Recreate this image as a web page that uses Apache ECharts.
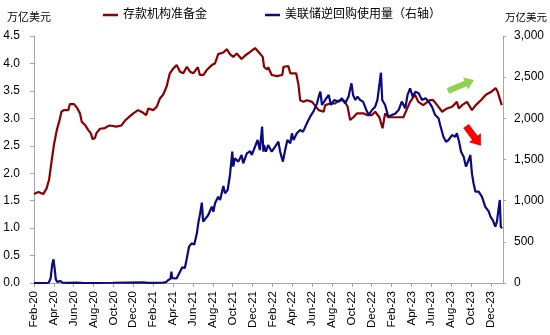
<!DOCTYPE html>
<html>
<head>
<meta charset="utf-8">
<script src="https://cdn.jsdelivr.net/npm/echarts@6/dist/echarts.min.js"></script>
<style>
  html, body { margin: 0; padding: 0; background: #fff; }
  #chart { width: 550px; height: 335px; }
</style>
</head>
<body>
<div id="chart"></div>
<script>
// Reserve balances of depository institutions, trillion USD (left axis)
const reserves = [
  ['2020-02-01',1.62],['2020-02-14',1.66],['2020-02-28',1.62],['2020-03-09',1.72],['2020-03-17',1.88],
  ['2020-03-24',2.18],['2020-04-01',2.51],['2020-04-10',2.79],['2020-04-17',2.94],['2020-04-24',3.12],
  ['2020-05-01',3.15],['2020-05-15',3.15],['2020-05-20',3.26],['2020-06-02',3.26],['2020-06-12',3.18],
  ['2020-06-20',3.09],['2020-06-25',2.94],['2020-07-05',2.88],['2020-07-15',2.79],['2020-07-23',2.73],
  ['2020-07-29',2.62],['2020-08-05',2.64],['2020-08-10',2.73],['2020-08-21',2.81],['2020-09-05',2.82],
  ['2020-09-12',2.85],['2020-09-20',2.87],['2020-09-25',2.84],['2020-10-10',2.85],['2020-10-26',2.87],
  ['2020-11-06',2.96],['2020-11-21',3.04],['2020-12-01',3.09],['2020-12-16',3.15],['2021-01-01',3.10],
  ['2021-01-10',3.06],['2021-01-17',3.18],['2021-02-01',3.15],['2021-02-11',3.21],['2021-02-20',3.36],
  ['2021-03-01',3.43],['2021-03-12',3.58],['2021-03-22',3.82],['2021-04-02',3.91],['2021-04-12',3.97],
  ['2021-04-22',3.85],['2021-05-02',3.82],['2021-05-13',3.94],['2021-05-23',3.85],['2021-06-02',3.82],
  ['2021-06-16',3.93],['2021-06-22',3.79],['2021-07-03',3.79],['2021-07-13',3.88],['2021-07-29',3.97],
  ['2021-08-08',4.00],['2021-08-18',4.17],['2021-09-03',4.20],['2021-09-13',4.26],['2021-09-23',4.17],
  ['2021-10-03',4.12],['2021-10-14',4.18],['2021-10-29',4.08],['2021-11-08',4.14],['2021-11-24',4.21],
  ['2021-12-09',4.28],['2021-12-24',4.18],['2022-01-02',4.12],['2022-01-06',3.94],['2022-01-15',3.89],
  ['2022-01-19',3.93],['2022-01-30',3.79],['2022-02-14',3.77],['2022-03-01',3.79],['2022-03-05',3.94],
  ['2022-03-20',3.95],['2022-03-26',3.82],['2022-04-13',3.82],['2022-04-20',3.61],['2022-04-25',3.33],
  ['2022-05-05',3.30],['2022-05-16',3.33],['2022-06-01',3.30],['2022-06-07',3.33],['2022-06-21',3.15],
  ['2022-07-06',3.12],['2022-07-11',3.24],['2022-07-27',3.27],['2022-08-11',3.27],['2022-08-21',3.32],
  ['2022-09-06',3.33],['2022-09-18',3.22],['2022-09-26',2.97],['2022-10-06',3.02],['2022-10-17',3.09],
  ['2022-11-07',3.09],['2022-11-17',3.06],['2022-12-02',3.06],['2022-12-12',3.12],['2022-12-25',3.02],
  ['2023-01-04',2.82],['2023-01-12',3.09],['2023-01-22',3.02],['2023-03-07',3.02],['2023-03-28',3.30],
  ['2023-04-12',3.43],['2023-04-22',3.30],['2023-05-07',3.24],['2023-05-28',3.33],['2023-06-07',3.33],
  ['2023-06-19',3.24],['2023-07-04',3.12],['2023-07-19',3.18],['2023-08-04',3.21],['2023-08-19',3.30],
  ['2023-08-25',3.18],['2023-09-04',3.24],['2023-09-19',3.30],['2023-10-04',3.15],['2023-10-16',3.24],
  ['2023-11-01',3.33],['2023-11-16',3.43],['2023-12-04',3.49],['2023-12-16',3.55],['2023-12-22',3.49],
  ['2024-01-04',3.24]
];

// Fed overnight reverse repo usage, billion USD (right axis)
const reverseRepo = [
  ['2020-02-01',0],['2020-03-01',0],['2020-03-16',3],['2020-03-22',60],['2020-03-27',230],
  ['2020-03-31',288],['2020-04-03',190],['2020-04-07',40],['2020-04-12',12],['2020-04-20',25],
  ['2020-04-27',5],['2020-05-15',2],['2020-06-10',4],['2020-07-01',0],['2020-09-30',3],
  ['2020-12-31',8],['2021-01-15',1],['2021-03-01',5],['2021-03-10',10],['2021-03-17',36],
  ['2021-03-24',50],['2021-03-27',137],['2021-03-29',60],['2021-04-01',36],['2021-04-12',57],
  ['2021-04-22',137],['2021-04-29',190],['2021-05-07',182],['2021-05-12',279],['2021-05-20',441],
  ['2021-05-28',482],['2021-06-05',466],['2021-06-13',603],['2021-06-18',745],['2021-06-23',846],
  ['2021-06-28',976],['2021-07-02',745],['2021-07-08',765],['2021-07-18',826],['2021-07-29',927],
  ['2021-08-03',866],['2021-08-08',968],['2021-08-18',1048],['2021-08-24',1008],['2021-09-03',1178],
  ['2021-09-08',1089],['2021-09-16',1130],['2021-09-23',1312],['2021-09-30',1595],['2021-10-03',1413],
  ['2021-10-08',1514],['2021-10-19',1474],['2021-10-29',1555],['2021-11-03',1453],['2021-11-14',1575],
  ['2021-11-24',1600],['2021-11-29',1555],['2021-12-09',1656],['2021-12-17',1737],['2021-12-24',1615],
  ['2021-12-31',1899],['2022-01-04',1595],['2022-01-06',1676],['2022-01-12',1595],['2022-01-19',1676],
  ['2022-01-30',1595],['2022-02-09',1656],['2022-02-18',1716],['2022-02-23',1595],['2022-03-03',1474],
  ['2022-03-10',1615],['2022-03-17',1737],['2022-03-26',1696],['2022-03-31',1818],['2022-04-05',1737],
  ['2022-04-15',1818],['2022-04-25',1858],['2022-05-04',1838],['2022-05-11',1899],['2022-05-18',1959],
  ['2022-05-26',2020],['2022-06-05',2081],['2022-06-16',2182],['2022-06-21',2263],['2022-06-26',2324],
  ['2022-07-01',2162],['2022-07-11',2223],['2022-07-22',2284],['2022-07-29',2162],['2022-08-08',2223],
  ['2022-08-22',2203],['2022-09-01',2243],['2022-09-11',2182],['2022-09-21',2263],['2022-09-30',2425],
  ['2022-10-05',2284],['2022-10-12',2223],['2022-10-19',2263],['2022-10-27',2223],['2022-11-05',2203],
  ['2022-11-15',2101],['2022-11-22',2040],['2022-12-02',2101],['2022-12-12',2142],['2022-12-19',2223],
  ['2022-12-30',2554],['2023-01-03',2223],['2023-01-12',2162],['2023-01-22',2020],['2023-02-02',2040],
  ['2023-02-12',2060],['2023-02-21',2101],['2023-03-02',2203],['2023-03-13',2121],['2023-03-20',2284],
  ['2023-03-28',2365],['2023-04-05',2263],['2023-04-13',2324],['2023-04-23',2304],['2023-05-03',2223],
  ['2023-05-14',2243],['2023-05-24',2203],['2023-06-03',2142],['2023-06-13',2040],['2023-06-23',2000],
  ['2023-06-28',1919],['2023-07-08',1777],['2023-07-16',1716],['2023-07-24',1737],['2023-08-04',1797],
  ['2023-08-14',1777],['2023-08-19',1818],['2023-08-26',1716],['2023-09-01',1595],['2023-09-09',1534],
  ['2023-09-16',1413],['2023-09-24',1494],['2023-09-29',1555],['2023-10-04',1332],['2023-10-09',1211],
  ['2023-10-15',1109],['2023-10-25',1109],['2023-11-04',1048],['2023-11-14',927],['2023-11-25',866],
  ['2023-11-30',805],['2023-12-07',765],['2023-12-15',684],['2023-12-20',745],['2023-12-29',1008],
  ['2024-01-01',684],['2024-01-05',664]
];

const seriesNames = ['存款机构准备金', '美联储逆回购使用量（右轴）'];
const unitLabel = '万亿美元';
const monthNames = ['Jan','Feb','Mar','Apr','May','Jun','Jul','Aug','Sep','Oct','Nov','Dec'];
const axisEnd = '2024-01-08';

// Trend arrows (left-axis units): from, to
const upArrow = [['2023-07-22', 3.50], ['2023-10-10', 3.70]];
const downArrow = [['2023-09-16', 2.86], ['2023-11-01', 2.50]];

// Month offset from Feb 2020, fractional within the month
function monthIndex(s) {
  const [y, m, d] = s.split('-').map(Number);
  const days = new Date(y, m, 0).getDate();
  return (y - 2020) * 12 + (m - 2) + (d - 1) / days;
}
function monthLabel(v) {
  if (Math.abs(v - Math.round(v)) > 1e-6) return '';
  const k = Math.round(v) + 1;
  const yy = String(20 + Math.floor(k / 12)).padStart(2, '0');
  return monthNames[k % 12] + '-' + yy;
}

const FONT = 'Liberation Sans, Arial, Noto Sans CJK SC, sans-serif';
const AXIS_GREY = '#a6a6a6';
const RED = '#8b0000';
const NAVY = '#0a0a85';

const chart = echarts.init(document.getElementById('chart'), null, { renderer: 'canvas' });

const legendBase = {
  top: 9, padding: 0, icon: 'rect', itemWidth: 15, itemHeight: 2.5, selectedMode: false,
  textStyle: { fontSize: 12, color: '#000', fontFamily: FONT }
};

chart.setOption({
  animation: false,
  backgroundColor: '#fff',
  textStyle: { fontFamily: FONT },
  grid: { left: 34, right: 47, top: 36, bottom: 52, containLabel: false },
  legend: [
    Object.assign({}, legendBase, { data: [seriesNames[0]], left: 103 }),
    Object.assign({}, legendBase, { data: [seriesNames[1]], left: 265 })
  ],
  xAxis: {
    type: 'value',
    min: 0,
    max: monthIndex(axisEnd),
    interval: 2,
    splitLine: { show: false },
    axisLine: { lineStyle: { color: AXIS_GREY, width: 1 } },
    axisTick: { show: true, length: 4, lineStyle: { color: AXIS_GREY } },
    axisLabel: {
      rotate: 90, margin: 8, fontSize: 11.5, color: '#000', fontFamily: FONT,
      showMaxLabel: false, formatter: monthLabel
    }
  },
  yAxis: [
    {
      type: 'value', min: 0, max: 4.5, interval: 0.5, position: 'left',
      name: unitLabel, nameLocation: 'end', nameGap: 13,
      nameTextStyle: { fontSize: 11, color: '#000', align: 'center', padding: [0, 10, 0, 0], fontFamily: FONT },
      splitLine: { show: false },
      axisLine: { show: true, lineStyle: { color: AXIS_GREY } },
      axisTick: { show: true, length: 4, lineStyle: { color: AXIS_GREY } },
      axisLabel: { margin: 14, fontSize: 12, color: '#000', fontFamily: FONT, formatter: v => v.toFixed(1) }
    },
    {
      type: 'value', min: 0, max: 3000, interval: 500, position: 'right',
      name: unitLabel, nameLocation: 'end', nameGap: 13,
      nameTextStyle: { fontSize: 10.5, color: '#000', align: 'left', padding: [0, 0, 0, 2], fontFamily: FONT },
      splitLine: { show: false },
      axisLine: { show: true, lineStyle: { color: AXIS_GREY } },
      axisTick: { show: true, length: 3, lineStyle: { color: AXIS_GREY } },
      axisLabel: { margin: 11, fontSize: 12, color: '#000', fontFamily: FONT,
        formatter: v => v.toLocaleString('en-US') }
    }
  ],
  series: [
    {
      name: seriesNames[0], type: 'line', yAxisIndex: 0, showSymbol: false, symbol: 'none',
      lineStyle: { color: RED, width: 2.2 }, itemStyle: { color: RED },
      data: reserves.map(([d, v]) => [monthIndex(d), v])
    },
    {
      name: seriesNames[1], type: 'line', yAxisIndex: 1, showSymbol: false, symbol: 'none',
      lineStyle: { color: NAVY, width: 2.2 }, itemStyle: { color: NAVY },
      data: reverseRepo.map(([d, v]) => [monthIndex(d), v])
    }
  ]
});

// Block arrow polygon between two pixel points
function arrowShape(p0, p1, shaft, head, headLen) {
  const dx = p1[0] - p0[0], dy = p1[1] - p0[1];
  const len = Math.hypot(dx, dy);
  const ux = dx / len, uy = dy / len;
  const nx = -uy, ny = ux;
  const bx = p1[0] - ux * headLen, by = p1[1] - uy * headLen;
  return [
    [p0[0] + nx * shaft, p0[1] + ny * shaft],
    [bx + nx * shaft, by + ny * shaft],
    [bx + nx * head, by + ny * head],
    [p1[0], p1[1]],
    [bx - nx * head, by - ny * head],
    [bx - nx * shaft, by - ny * shaft],
    [p0[0] - nx * shaft, p0[1] - ny * shaft]
  ];
}
function toPx(pt) {
  return chart.convertToPixel({ xAxisIndex: 0, yAxisIndex: 0 }, [monthIndex(pt[0]), pt[1]]);
}

chart.setOption({
  graphic: [
    { type: 'polygon', z: 100, shape: { points: arrowShape(toPx(upArrow[0]), toPx(upArrow[1]), 3, 6.5, 9) },
      style: { fill: '#92d050' } },
    { type: 'polygon', z: 100, shape: { points: arrowShape(toPx(downArrow[0]), toPx(downArrow[1]), 3.5, 7.5, 10) },
      style: { fill: '#ff0000' } }
  ]
});
</script>
</body>
</html>
